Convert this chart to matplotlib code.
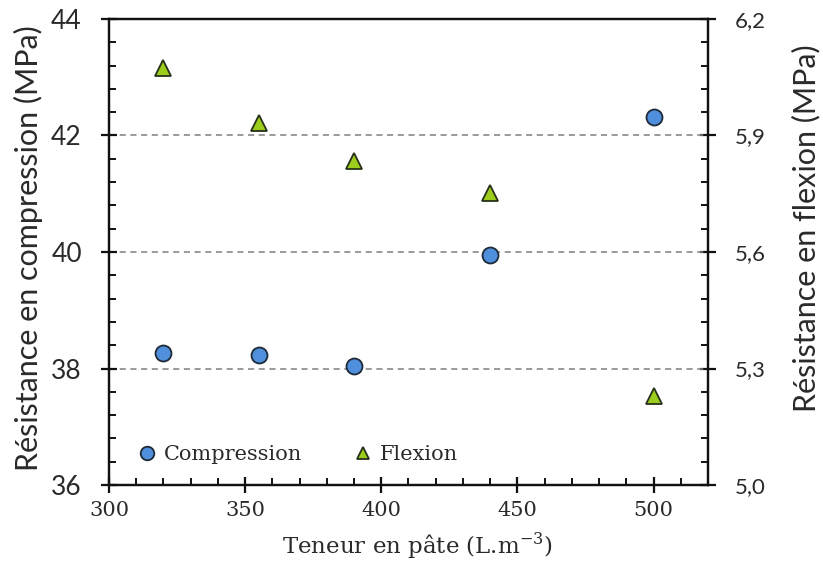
import matplotlib
matplotlib.use("Agg")
import matplotlib.pyplot as plt
from matplotlib.ticker import AutoMinorLocator, FuncFormatter

# donnees
teneur = [320, 355, 390, 440, 500]
compression = [38.26, 38.24, 38.05, 39.94, 42.32]
flexion = [6.075, 5.931, 5.835, 5.752, 5.230]

plt.rcParams['font.family'] = ['DejaVu Serif']
plt.rcParams['font.size'] = 15
gris = '#2a2a2a'

fig = plt.figure(figsize=(8.23, 5.75), dpi=100)
ax = fig.add_axes([0.1324, 0.1565, 0.7279, 0.8105])
ax2 = ax.twinx()

ax.set_zorder(2)
ax.patch.set_visible(False)

for y in [38, 40, 42]:
    ax.axhline(y, color='#7f7f7f', lw=1.1, ls=(0, (4, 3)), zorder=1)

h1, = ax.plot(teneur, compression, 'o', ms=11.5, mfc='#4f8fdc', mec='#1f2a38',
              mew=1.3, label='Compression', zorder=5)
h2, = ax2.plot(teneur, flexion, '^', ms=11, mfc='#9ccc1c', mec='#26301a',
               mew=1.3, label='Flexion', zorder=5)

ax.set_xlim(300, 520)
ax.set_ylim(36, 44)
ax2.set_ylim(5.0, 6.2)
ax.set_xticks([300, 350, 400, 450, 500])
ax.set_yticks([36, 38, 40, 42, 44])
ax2.set_yticks([5.0, 5.3, 5.6, 5.9, 6.2])
ax2.yaxis.set_major_formatter(FuncFormatter(lambda v, p: f"{v:.1f}".replace('.', ',')))
ax.xaxis.set_minor_locator(AutoMinorLocator(5))
ax.yaxis.set_minor_locator(AutoMinorLocator(5))
ax2.yaxis.set_minor_locator(AutoMinorLocator(5))

for a in (ax, ax2):
    for s in a.spines.values():
        s.set_linewidth(1.6)
        s.set_color('#111111')
    a.tick_params(which='major', direction='inout', length=11, width=1.6, labelsize=15,
                  colors='#111111', labelcolor=gris)
    a.tick_params(which='minor', direction='in', length=5, width=1.4, colors='#111111')
ax.tick_params(axis='x', which='major', pad=6)
ax.tick_params(axis='y', which='major', pad=14)
ax2.tick_params(axis='y', which='major', pad=14)

# etiquettes des axes y en sans-serif
for lab in ax.get_yticklabels():
    lab.set_fontfamily('Lato')
    lab.set_fontsize(19)
for lab in ax2.get_yticklabels():
    lab.set_fontfamily('Lato')
    lab.set_fontsize(16)

fig.text(0.507, 0.052, 'Teneur en pâte (L.m$^{\\mathregular{-3}}$)', fontsize=16.5,
         color=gris, ha='center', va='center')
fig.text(0.034, 0.569, 'Résistance en compression (MPa)', family='Lato', fontsize=22,
         color=gris, rotation=90, ha='center', va='center')
fig.text(0.979, 0.603, 'Résistance en flexion (MPa)', family='Lato', fontsize=22,
         color=gris, rotation=90, ha='center', va='center')

ax.legend(handles=[h1, h2], loc='center left', ncol=2, frameon=False, fontsize=15,
          markerscale=0.85, handlelength=1.0, handletextpad=0.3, columnspacing=2.45,
          bbox_to_anchor=(0.143, 0.2087), bbox_transform=fig.transFigure,
          labelcolor=gris)

fig.savefig('out.png', dpi=100)
